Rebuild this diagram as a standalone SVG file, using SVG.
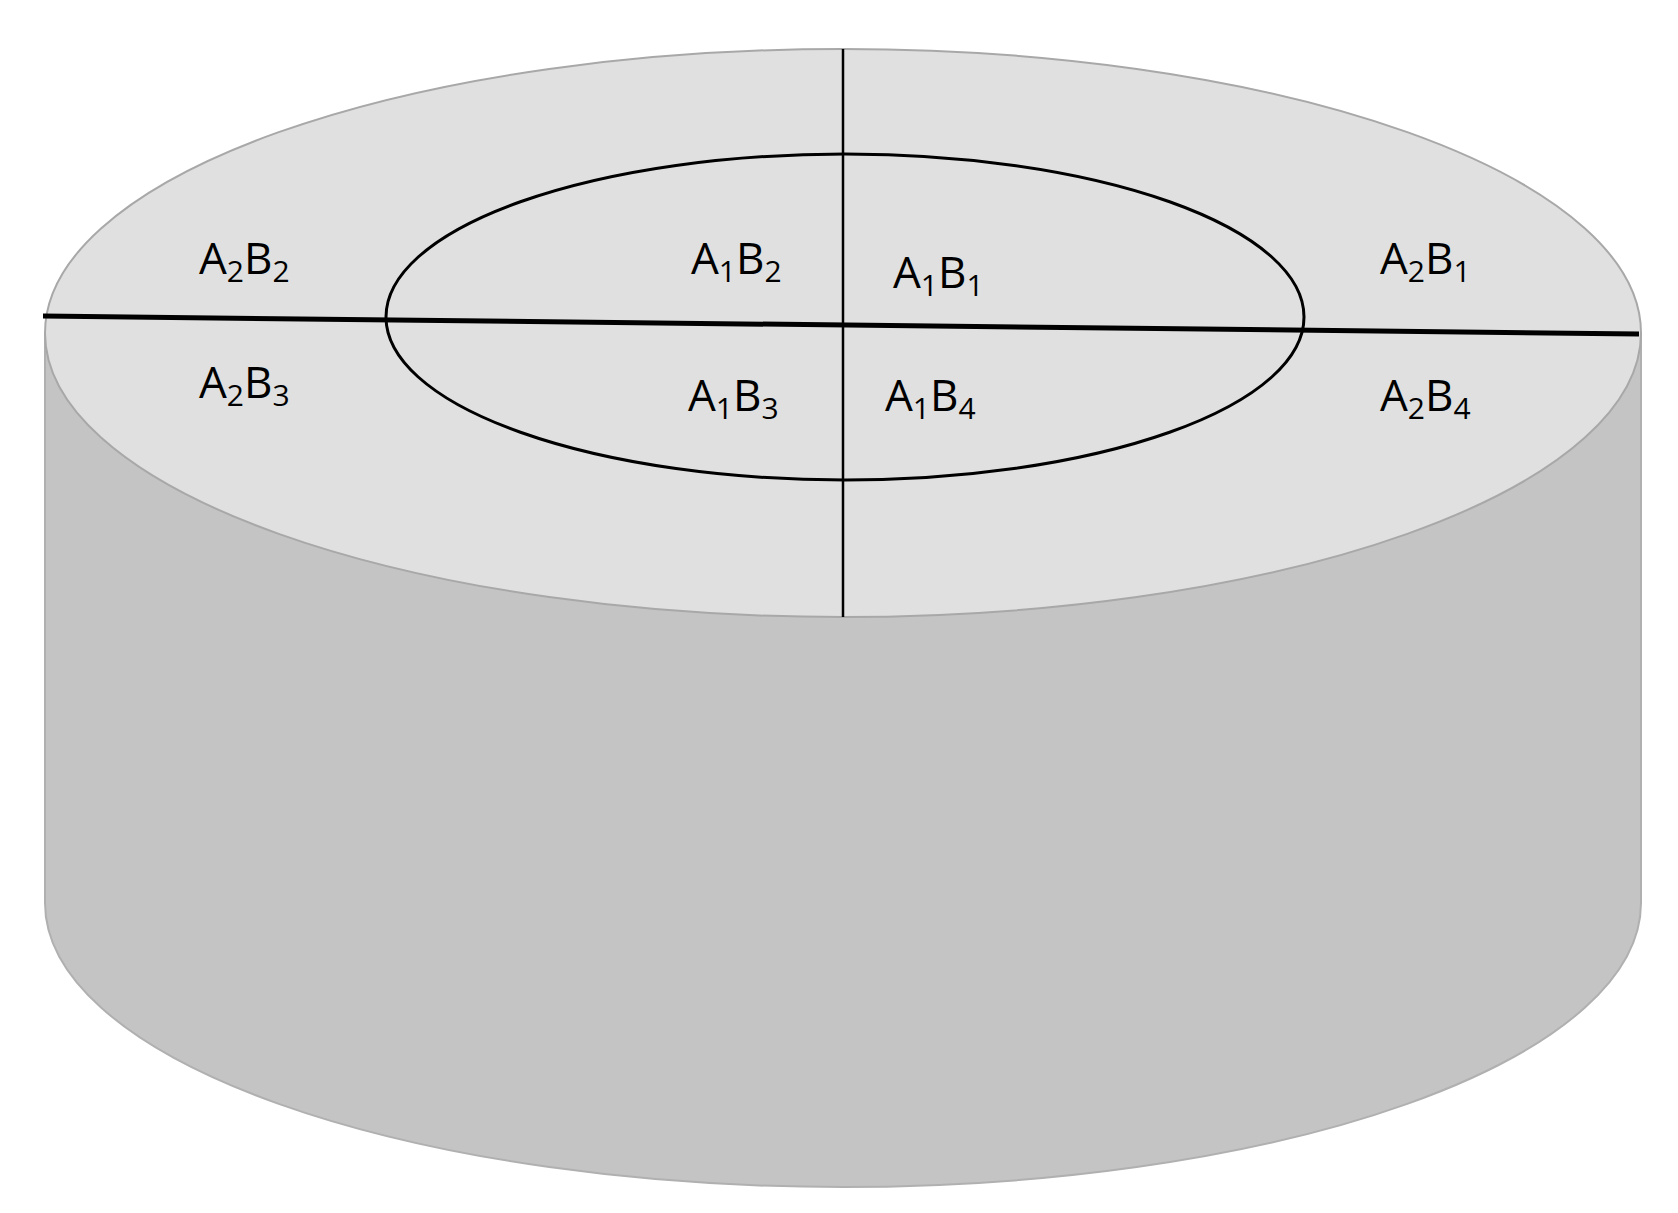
<svg xmlns="http://www.w3.org/2000/svg" width="1678" height="1213" viewBox="0 0 1678 1213">
<style>
text{font-family:"Open Sans","Liberation Sans",sans-serif;font-size:44px;fill:#000}
.s{font-size:30px}
</style>
<rect width="1678" height="1213" fill="#fff"/>
<g id="cylinder">
<path d="M45 333 L45 903 A798 284 0 0 0 1641 903 L1641 333 Z" fill="#c4c4c4" stroke="#b0b0b0" stroke-width="2"/>
<ellipse cx="843" cy="333" rx="798" ry="284" fill="#e0e0e0" stroke="#a8a8a8" stroke-width="2"/>
</g>
<g id="lines" fill="none" stroke="#000">
<ellipse cx="845" cy="317" rx="459" ry="163" stroke-width="3"/>
<line x1="43" y1="316" x2="1639" y2="334" stroke-width="5"/>
<line x1="843" y1="49" x2="843" y2="617" stroke-width="2.5"/>
</g>
<g id="labels">
<text x="199" y="274">A<tspan class="s" dy="8">2</tspan><tspan dy="-8">B</tspan><tspan class="s" dy="8">2</tspan></text>
<text x="691" y="274">A<tspan class="s" dy="8">1</tspan><tspan dy="-8">B</tspan><tspan class="s" dy="8">2</tspan></text>
<text x="893" y="288">A<tspan class="s" dy="8">1</tspan><tspan dy="-8">B</tspan><tspan class="s" dy="8">1</tspan></text>
<text x="1380" y="274">A<tspan class="s" dy="8">2</tspan><tspan dy="-8">B</tspan><tspan class="s" dy="8">1</tspan></text>
<text x="199" y="398">A<tspan class="s" dy="8">2</tspan><tspan dy="-8">B</tspan><tspan class="s" dy="8">3</tspan></text>
<text x="688" y="411">A<tspan class="s" dy="8">1</tspan><tspan dy="-8">B</tspan><tspan class="s" dy="8">3</tspan></text>
<text x="885" y="411">A<tspan class="s" dy="8">1</tspan><tspan dy="-8">B</tspan><tspan class="s" dy="8">4</tspan></text>
<text x="1380" y="411">A<tspan class="s" dy="8">2</tspan><tspan dy="-8">B</tspan><tspan class="s" dy="8">4</tspan></text>
</g>
</svg>
